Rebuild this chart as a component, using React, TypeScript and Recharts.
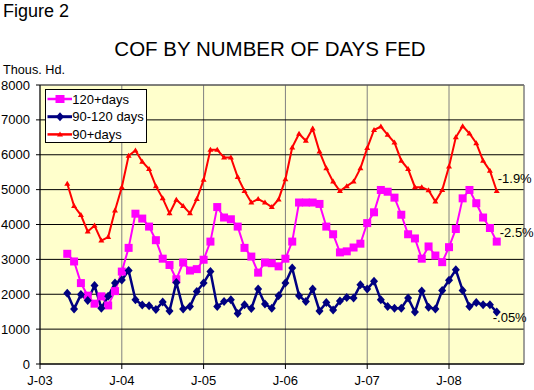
import React from 'react';
import {
  LineChart,
  Line,
  XAxis,
  YAxis,
  CartesianGrid,
  ReferenceLine,
  ReferenceDot,
  Legend,
} from 'recharts';

// Months counted from Jan 2003 (0 = J-03); data run May 2003 .. Aug 2008
const FIRST_MONTH = 4;
const LAST_AXIS_MONTH = 71;
const yearTicks = [0, 12, 24, 36, 48, 60];
const yearLabels = ['J-03', 'J-04', 'J-05', 'J-06', 'J-07', 'J-08'];
const yTicks = [0, 1000, 2000, 3000, 4000, 5000, 6000, 7000, 8000];

const over120Days = [
  3160, 2940, 2320, 1960, 1730, 1940, 1680, 2090, 2650, 3330,
  4310, 4170, 3940, 3550, 3020, 2840, 2430, 2910, 2680, 2720,
  2990, 3510, 4500, 4200, 4150, 3940, 3330, 3080, 2620, 2910,
  2890, 2800, 3020, 3510, 4630, 4630, 4630, 4590, 3940, 3720,
  3200, 3230, 3340, 3450, 4040, 4350, 4990, 4940, 4770, 4280,
  3720, 3600, 3020, 3370, 3110, 2920, 3350, 3870, 4750, 4990,
  4610, 4200, 3900, 3510,
];

const days90to120 = [
  2030, 1580, 1990, 1820, 2250, 1600, 1940, 2320, 2410, 2680,
  1840, 1690, 1670, 1560, 1780, 1520, 2340, 1580, 1650, 2080,
  2320, 2650, 1650, 1790, 1840, 1450, 1700, 1590, 2150, 1720,
  1600, 1960, 2320, 2750, 1960, 1790, 2150, 1520, 1760, 1550,
  1810, 1910, 1890, 2270, 2150, 2370, 1840, 1650, 1600, 1600,
  1890, 1490, 2090, 1630, 1580, 2110, 2400, 2700, 2110, 1650,
  1760, 1700, 1700, 1490,
];

const over90Days = [
  5170, 4530, 4270, 3800, 3970, 3540, 3640, 4400, 5070, 5970,
  6120, 5800, 5590, 5100, 4750, 4320, 4710, 4530, 4320, 4730,
  5280, 6140, 6140, 5920, 5920, 5360, 4960, 4630, 4730, 4630,
  4500, 4720, 5300, 6210, 6600, 6400, 6750, 6090, 5610, 5230,
  4960, 5100, 5230, 5610, 6190, 6710, 6810, 6570, 6350, 5830,
  5590, 5070, 5070, 4980, 4660, 4990, 5660, 6500, 6820, 6610,
  6330, 5830, 5540, 4960,
];

const changeLabels = ['-1.9%', '-2.5%', '-.05%'];

const data = over120Days.map((v, i) => ({
  m: FIRST_MONTH + i,
  a: v,
  b: days90to120[i],
  c: over90Days[i],
}));

const FONT = "Arial, 'Liberation Sans', sans-serif";
const MAGENTA = '#FF00FF';
const NAVY = '#000080';
const RED = '#FF0000';

const SquareDot = (props: any) => {
  const { cx, cy, index } = props;
  if (cx == null || cy == null) return null;
  return <rect key={`sq-${index}`} x={cx - 4} y={cy - 4} width={8} height={8} fill={MAGENTA} />;
};

const DiamondDot = (props: any) => {
  const { cx, cy, index } = props;
  if (cx == null || cy == null) return null;
  return (
    <polygon
      key={`dm-${index}`}
      points={`${cx},${cy - 4.5} ${cx + 4},${cy} ${cx},${cy + 4.5} ${cx - 4},${cy}`}
      fill={NAVY}
    />
  );
};

const TriangleDot = (props: any) => {
  const { cx, cy, index } = props;
  if (cx == null || cy == null) return null;
  return (
    <polygon
      key={`tr-${index}`}
      points={`${cx},${cy - 3} ${cx + 3},${cy + 2} ${cx - 3},${cy + 2}`}
      fill={RED}
    />
  );
};

const AnnoLabel = (props: any) => {
  const { viewBox, text, dx, dy } = props;
  if (!viewBox) return null;
  const x = viewBox.x + (viewBox.width || 0) / 2 + dx;
  const y = viewBox.y + (viewBox.height || 0) / 2 + dy;
  return (
    <text x={x} y={y} dy="0.35em" fontFamily={FONT} fontSize={13} fill="#000" textAnchor="start">
      {text}
    </text>
  );
};

const legendItems = [
  { name: '120+days', color: MAGENTA, kind: 'square' },
  { name: '90-120 days', color: NAVY, kind: 'diamond' },
  { name: '90+days', color: RED, kind: 'triangle' },
];

const LegendBox = () => (
  <div
    style={{
      width: 102,
      height: 54,
      background: '#fff',
      border: '1px solid #000',
      boxSizing: 'border-box',
      position: 'relative',
      fontFamily: FONT,
      fontSize: 13,
    }}
  >
    <svg width={100} height={52} style={{ position: 'absolute', left: 0, top: 0 }}>
      {legendItems.map((it, i) => {
        const cy = 9 + i * 17.7;
        const cx = 14;
        let marker: any = null;
        if (it.kind === 'square') marker = <rect x={cx - 4.5} y={cy - 4} width={9} height={8} fill={it.color} />;
        if (it.kind === 'diamond')
          marker = <polygon points={`${cx},${cy - 4.5} ${cx + 4},${cy} ${cx},${cy + 4.5} ${cx - 4},${cy}`} fill={it.color} />;
        if (it.kind === 'triangle')
          marker = <polygon points={`${cx},${cy - 3} ${cx + 3},${cy + 2} ${cx - 3},${cy + 2}`} fill={it.color} />;
        return (
          <g key={it.name}>
            <line x1={1.5} x2={26} y1={cy} y2={cy} stroke={it.color} strokeWidth={it.kind === 'diamond' ? 3 : 2.5} />
            {marker}
            <text x={26.3} y={cy} dy="0.35em" fontFamily={FONT} fontSize={13} fill="#000">
              {it.name}
            </text>
          </g>
        );
      })}
    </svg>
  </div>
);

export default function App() {
  return (
    <div style={{ position: 'absolute', left: 0, top: 0, width: 534, height: 390, background: '#fff' }}>
      <svg width={534} height={90} style={{ position: 'absolute', left: 0, top: 0 }}>
        <text x={3} y={17} fontFamily={FONT} fontSize={18} fill="#000">
          Figure 2
        </text>
        <text x={270} y={56} fontFamily={FONT} fontSize={20.5} fill="#000" textAnchor="middle">
          COF BY NUMBER OF DAYS FED
        </text>
        <text x={3} y={74} fontFamily={FONT} fontSize={12.7} fill="#000">
          Thous. Hd.
        </text>
      </svg>
      <div style={{ position: 'absolute', left: 0, top: 0 }}>
        <LineChart width={534} height={390} data={data} margin={{ top: 85, right: 10, bottom: 0, left: 0 }}>
          <CartesianGrid horizontal={false} vertical={true} stroke="#808080" fill="#FFFFCC" />
          <CartesianGrid horizontal={true} vertical={false} stroke="#000" />
          <XAxis
            dataKey="m"
            type="number"
            domain={[0, LAST_AXIS_MONTH]}
            ticks={yearTicks}
            tickFormatter={(v: number) => yearLabels[yearTicks.indexOf(v)] ?? ''}
            height={26}
            axisLine={{ stroke: '#000' }}
            tickLine={{ stroke: '#000' }}
            tickSize={5}
            tickMargin={7}
            tick={{ fontFamily: FONT, fontSize: 13, fill: '#000' }}
            allowDataOverflow
          />
          <YAxis
            type="number"
            domain={[0, 8000]}
            ticks={yTicks}
            width={40}
            axisLine={{ stroke: '#000' }}
            tickLine={{ stroke: '#000' }}
            tickSize={4}
            tickMargin={6}
            tick={{ fontFamily: FONT, fontSize: 13, fill: '#000' }}
            interval={0}
          />
          <ReferenceLine y={8000} stroke="#808080" />
          <ReferenceLine x={LAST_AXIS_MONTH} stroke="#808080" />
          <Line
            type="linear"
            dataKey="a"
            name="120+days"
            stroke={MAGENTA}
            strokeWidth={2}
            dot={SquareDot}
            activeDot={false}
            isAnimationActive={false}
          />
          <Line
            type="linear"
            dataKey="b"
            name="90-120 days"
            stroke={NAVY}
            strokeWidth={2.5}
            dot={DiamondDot}
            activeDot={false}
            isAnimationActive={false}
          />
          <Line
            type="linear"
            dataKey="c"
            name="90+days"
            stroke={RED}
            strokeWidth={2}
            dot={TriangleDot}
            activeDot={false}
            isAnimationActive={false}
          />
          <ReferenceDot
            x={data[data.length - 1].m}
            y={over90Days[over90Days.length - 1]}
            r={0.5}
            fill="none"
            stroke="none"
            label={<AnnoLabel text={changeLabels[0]} dx={1} dy={-13} />}
          />
          <ReferenceDot
            x={data[data.length - 1].m}
            y={over120Days[over120Days.length - 1]}
            r={0.5}
            fill="none"
            stroke="none"
            label={<AnnoLabel text={changeLabels[1]} dx={3} dy={-9} />}
          />
          <ReferenceDot
            x={data[data.length - 1].m}
            y={days90to120[days90to120.length - 1]}
            r={0.5}
            fill="none"
            stroke="none"
            label={<AnnoLabel text={changeLabels[2]} dx={-4} dy={5} />}
          />
          <Legend
            layout="horizontal"
            verticalAlign="middle"
            align="center"
            wrapperStyle={{ position: 'absolute', left: 45, top: 89, width: 102, height: 54 }}
            content={() => <LegendBox />}
          />
        </LineChart>
      </div>
    </div>
  );
}
